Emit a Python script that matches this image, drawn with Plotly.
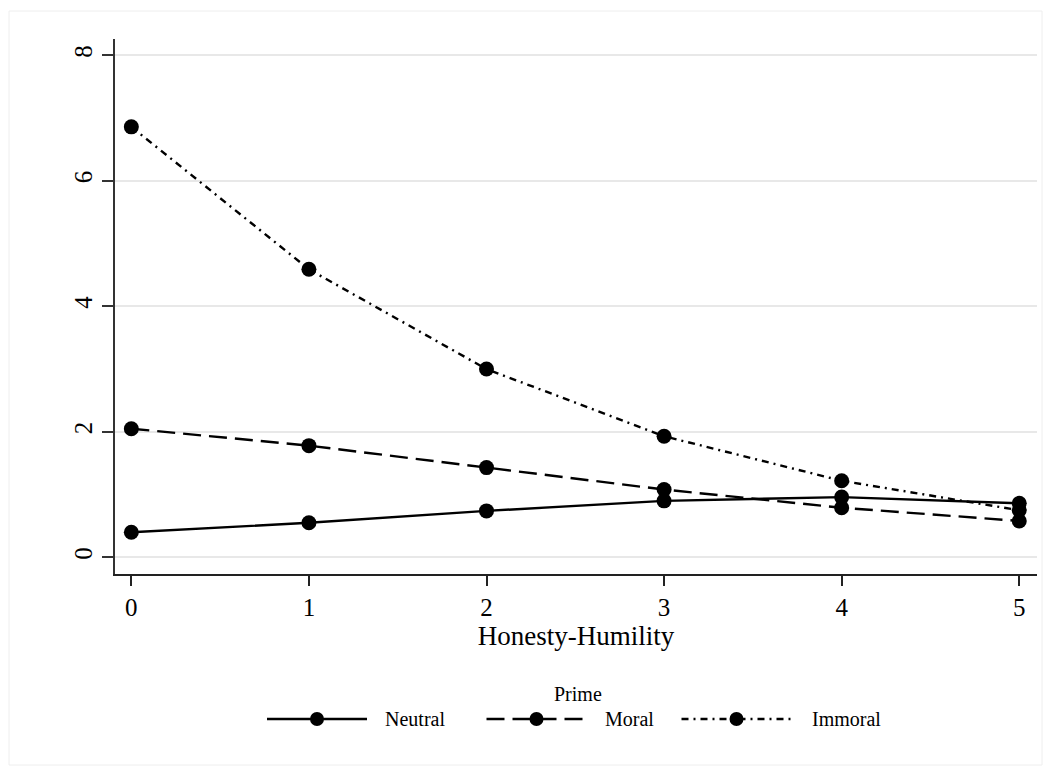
import plotly.graph_objects as go

OFF = 8  # browser body margin
W, H = 1051 - 2 * OFF, 774 - 2 * OFF

x_vals = [0, 1, 2, 3, 4, 5]
neutral = [0.40, 0.55, 0.74, 0.90, 0.96, 0.86]
moral = [2.05, 1.78, 1.43, 1.08, 0.79, 0.58]
immoral = [6.86, 4.59, 3.00, 1.93, 1.22, 0.75]
series_names = ["Neutral", "Moral", "Immoral"]
y_ticks = [0, 2, 4, 6, 8]
x_title = "Honesty-Humility"
legend_title = "Prime"

FONT = "Liberation Serif"
dashes = ["solid", "18px,8px", "7px,5px,2px,5px"]

fig = go.Figure()
for name, vals, dash in zip(series_names, [neutral, moral, immoral], dashes):
    fig.add_trace(go.Scatter(
        x=x_vals, y=vals, name=name, mode="lines+markers",
        line=dict(color="black", width=2.4, dash=dash),
        marker=dict(color="black", size=15, symbol="circle"),
        showlegend=False,
    ))

def px(x):
    return (x - OFF) / W

def py(y):
    return 1 - (y - OFF) / H

fig.update_layout(
    width=W, height=H,
    margin=dict(l=0, r=0, t=0, b=0),
    paper_bgcolor="white", plot_bgcolor="white",
    font=dict(family=FONT, color="black"),
    xaxis=dict(
        domain=[px(115), px(1037)], range=[-0.092, 5.10],
        tickvals=x_vals, ticktext=[str(v) for v in x_vals],
        showgrid=False, zeroline=False,
        showline=True, linecolor="#222", linewidth=1.5,
        ticks="outside", ticklen=11, tickwidth=1.5, tickcolor="#222",
        tickfont=dict(size=25, family=FONT),
        title=dict(text=x_title, font=dict(size=27, family=FONT), standoff=4),
    ),
    yaxis=dict(
        domain=[py(573.7), py(39.2)], range=[-0.261, 8.257],
        tickvals=y_ticks, ticktext=[str(v) for v in y_ticks],
        showgrid=True, gridcolor="#e8e8e8", gridwidth=2,
        zeroline=False,
        showline=True, linecolor="#333", linewidth=1.5,
        ticks="outside", ticklen=11, tickwidth=1.5, tickcolor="#333",
        tickangle=-90,
        tickfont=dict(size=25, family=FONT),
    ),
)

shapes = []
annotations = []
# faint graph-region outline
shapes.append(dict(type="rect", xref="paper", yref="paper",
                   x0=px(9), x1=px(1042), y0=py(765), y1=py(11),
                   line=dict(color="#eeeeee", width=1), layer="below"))

# manual legend
leg_y = 719
items = [(267, 367, 383), (486.5, 586.5, 602.5), (681.5, 791.5, 810)]
for (x0, x1, tx), name, dash in zip(items, series_names, dashes):
    shapes.append(dict(type="line", xref="paper", yref="paper",
                       x0=px(x0), x1=px(x1), y0=py(leg_y), y1=py(leg_y),
                       line=dict(color="black", width=2.4, dash=dash)))
    cx = (x0 + x1) / 2
    r = 7
    shapes.append(dict(type="circle", xref="paper", yref="paper",
                       x0=px(cx - r), x1=px(cx + r), y0=py(leg_y + r), y1=py(leg_y - r),
                       fillcolor="black", line=dict(color="black", width=0)))
    annotations.append(dict(text=name, xref="paper", yref="paper",
                            x=px(tx), y=py(leg_y), xanchor="left", yanchor="middle",
                            showarrow=False, font=dict(size=20, family=FONT, color="black")))

annotations.append(dict(text=legend_title, xref="paper", yref="paper",
                        x=px(578), y=py(694), xanchor="center", yanchor="middle",
                        showarrow=False, font=dict(size=20, family=FONT, color="black")))

fig.update_layout(shapes=shapes, annotations=annotations)

fig.write_html("out.html")
